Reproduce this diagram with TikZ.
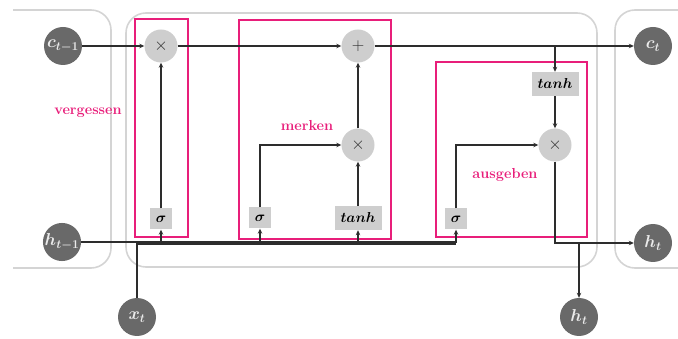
\documentclass[tikz,border=0pt]{standalone}
\usepackage{amsmath,bm}
\usetikzlibrary{arrows.meta}
\definecolor{pinkline}{RGB}{232,30,122}
\definecolor{darknode}{RGB}{105,105,105}
\definecolor{lightop}{RGB}{206,206,206}
\definecolor{cellline}{RGB}{212,212,212}
\definecolor{wirecol}{RGB}{45,45,45}
\begin{document}
\begin{tikzpicture}[x=1pt,y=-1pt,
  ionode/.style={circle, fill=darknode, minimum size=38pt, inner sep=0pt, text=white!92!black,
                 font=\fontsize{17}{19}\selectfont\boldmath},
  opnode/.style={circle, fill=lightop, minimum size=33pt, inner sep=0pt, text=wirecol,
                 font=\fontsize{16}{18}\selectfont},
  gatebox/.style={fill=lightop, inner sep=0pt, minimum height=21pt, minimum width=22pt,
                  font=\fontsize{15}{17}\selectfont},
  widebox/.style={gatebox, minimum width=47pt, minimum height=24pt},
  wire/.style={draw=wirecol, line width=1.1pt},
  arr/.style={wire, -{Stealth[length=5pt,width=4.5pt]}},
  stage/.style={draw=pinkline, line width=1.7pt},
  stagelabel/.style={text=pinkline, font=\fontsize{14.5}{16}\selectfont\bfseries},
  cell/.style={draw=cellline, line width=1.6pt, rounded corners=20pt}
]
\useasboundingbox (0,0) rectangle (678,339);

% neighbouring cells and the central cell
\draw[cell] (13,10) -- (111,10) -- (111,268) -- (13,268);
\draw[cell] (126,13) rectangle (597,267);
\draw[cell] (680,10) -- (615,10) -- (615,268) -- (680,268);

% the three stages
\draw[stage] (135,19) rectangle (188,237);
\draw[stage] (239,20) rectangle (391,239);
\draw[stage] (436,62) rectangle (587,237);
\node[stagelabel] (lf) at (88,113) {vergessen};
\node[stagelabel] (li) at (307,126) {merken};
\node[stagelabel] (lo) at (505,175) {ausgeben};

% inputs and outputs
\node[ionode] (cprev) at (63,46) {$c_{t-1}$};
\node[ionode] (hprev) at (62,242) {$h_{t-1}$};
\node[ionode] (xin) at (137,317) {$x_t$};
\node[ionode] (cnext) at (653,46) {$c_t$};
\node[ionode] (hnext) at (653,243) {$h_t$};
\node[ionode] (hout) at (579,317) {$h_t$};

% pointwise operations
\node[opnode] (fmul) at (161,46) {$\times$};
\node[opnode] (add) at (358,46) {$+$};
\node[opnode] (imul) at (358,145) {$\times$};
\node[opnode] (omul) at (555,145) {$\times$};

% gate layers
\node[gatebox] (fsig) at (161,219) {$\bm{\sigma}$};
\node[gatebox] (isig) at (260,218) {$\bm{\sigma}$};
\node[widebox] (itanh) at (358,218) {$\bm{tanh}$};
\node[gatebox] (osig) at (456,219) {$\bm{\sigma}$};
\node[widebox] (otanh) at (555,84) {$\bm{tanh}$};

% cell state line
\draw[arr] (cprev) -- (fmul);
\draw[arr] (fmul) -- (add);
\draw[arr] (add) -- (cnext);
\coordinate (cbranch) at (555,46);
\draw[arr] (cbranch) -- (otanh);
\draw[arr] (otanh) -- (omul);

% input bus
\coordinate (xbus) at (456,244);
\draw[wire] (xin) |- (xbus);
\draw[arr] (hprev) -| (osig);
\draw[arr] (fsig.south |- hprev) -- (fsig);
\draw[arr] (isig.south |- hprev) -- (isig);
\draw[arr] (itanh.south |- hprev) -- (itanh);

% gate connections
\draw[arr] (fsig) -- (fmul);
\draw[arr] (isig) |- (imul);
\draw[arr] (itanh) -- (imul);
\draw[arr] (imul) -- (add);
\draw[arr] (osig) |- (omul);

% hidden state output
\draw[arr] (omul) |- (hnext);
\coordinate (hsplit) at (579,243);
\draw[arr] (hsplit) -- (hout);
\end{tikzpicture}
\end{document}
